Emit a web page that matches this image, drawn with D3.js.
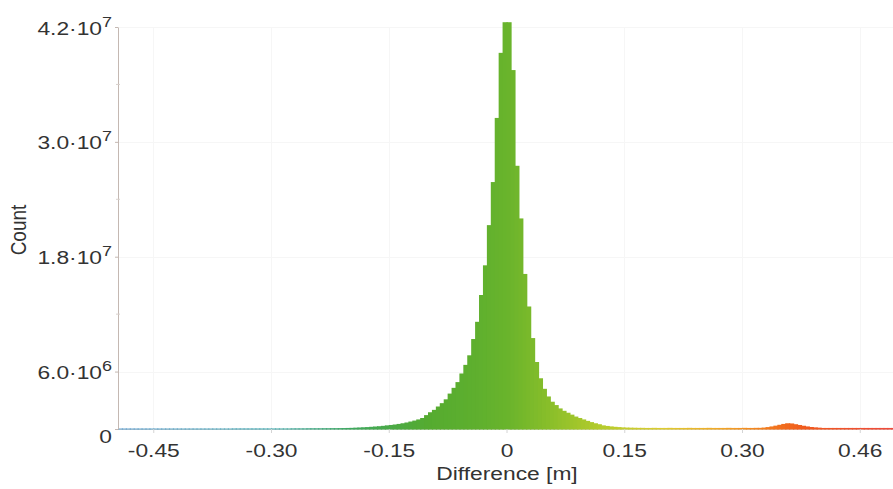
<!DOCTYPE html>
<html>
<head>
<meta charset="utf-8">
<script src="https://cdn.jsdelivr.net/npm/d3@7"></script>
<style>
  html, body { margin: 0; padding: 0; background: #ffffff; }
  svg { display: block; }
  text { font-family: "Liberation Sans", Arial, Helvetica, sans-serif; fill: #333333; }
</style>
</head>
<body>
<svg id="chart" width="893" height="489"></svg>
<script>
// Histogram of elevation differences: bin layout
const binStart = -0.5;      // metres, left edge of first bin
const binWidth = 0.005;     // metres per bin

// Point counts per bin, in millions
const countsMillions = [
  // -0.500 .. -0.355
  0.05, 0.05, 0.05, 0.05, 0.05, 0.05, 0.05, 0.05, 0.05, 0.05,
  0.05, 0.05, 0.05, 0.05, 0.05, 0.05, 0.05, 0.05, 0.05, 0.05,
  0.05, 0.05, 0.05, 0.05, 0.05, 0.05, 0.05, 0.05, 0.05, 0.05,
  // -0.350 .. -0.280
  0.06, 0.06, 0.06, 0.06, 0.06, 0.06, 0.06, 0.06, 0.06, 0.06,
  0.06, 0.06, 0.06, 0.06, 0.06,
  // -0.275 .. -0.230
  0.07, 0.07, 0.07, 0.07, 0.08, 0.08, 0.08, 0.08, 0.085, 0.085,
  // -0.225 .. -0.005
  0.09, 0.09, 0.095, 0.10, 0.11, 0.12, 0.14, 0.16, 0.18, 0.20,
  0.23, 0.26, 0.29, 0.33, 0.38, 0.42, 0.47, 0.53, 0.60, 0.68,
  0.78, 0.88, 1.00, 1.15, 1.45, 1.75, 2.00, 2.35, 2.70, 3.10,
  3.70, 4.30, 4.90, 5.80, 6.70, 7.70, 9.40, 11.2, 14.0, 17.1,
  21.3, 25.8, 32.5, 39.3, 42.5,
  // 0.000 .. 0.170
  42.5, 37.5, 27.5, 22.0, 16.2, 12.8, 9.50, 7.00, 5.30, 4.20,
  3.40, 2.85, 2.50, 2.15, 1.90, 1.70, 1.50, 1.30, 1.15, 1.00,
  0.85, 0.72, 0.60, 0.50, 0.38, 0.32, 0.27, 0.23, 0.20, 0.17,
  0.15, 0.14, 0.13, 0.12, 0.12,
  // 0.175 .. 0.320
  0.11, 0.11, 0.12, 0.11, 0.11, 0.11, 0.12, 0.11, 0.11, 0.11,
  0.11, 0.12, 0.11, 0.11, 0.11, 0.11, 0.12, 0.11, 0.11, 0.11,
  0.11, 0.12, 0.11, 0.11, 0.11, 0.12, 0.11, 0.11, 0.12, 0.12,
  // 0.325 .. 0.395 (secondary mode)
  0.15, 0.20, 0.27, 0.35, 0.44, 0.53, 0.60, 0.58, 0.50, 0.42,
  0.34, 0.27, 0.21, 0.17, 0.14,
  // 0.400 .. 0.495
  0.11, 0.11, 0.11, 0.11, 0.11, 0.11, 0.11, 0.11, 0.11, 0.11,
  0.11, 0.11, 0.11, 0.11, 0.11, 0.11, 0.11, 0.11, 0.11, 0.11
];

// Colour ramp along the difference axis
const colorStops = [-0.5, -0.3, -0.2, -0.1, -0.04, 0, 0.05, 0.12, 0.2, 0.27, 0.33, 0.38, 0.5];
const colorValues = ["#5f9ccc", "#52aeb4", "#3fa860", "#55ab30", "#5eaf2e", "#69b42c", "#86bd2a",
                     "#b5cc2c", "#dccb32", "#f0a82a", "#f27c1e", "#f05a1e", "#ee4a40"];

// Axis ticks
const xTickValues = [-0.45, -0.30, -0.15, 0, 0.15, 0.30, 0.45];
const xTickLabels = ["-0.45", "-0.30", "-0.15", "0", "0.15", "0.30", "0.46"];
const yTickValues = [0, 6e6, 1.8e7, 3.0e7, 4.2e7];
const yTickMantissa = ["0", "6.0\u00B710", "1.8\u00B710", "3.0\u00B710", "4.2\u00B710"];
const yTickExponent = ["", "6", "7", "7", "7"];
const yMinorTicks = [1.2e7, 2.4e7, 3.6e7];

const xTitle = "Difference [m]";
const yTitle = "Count";

const svg = d3.select("#chart");
const W = 893, H = 489;
const plotLeft = 118, plotRight = 893, baseY = 429, topY = 27;
const stretch = 1.2;   // glyphs are drawn slightly wide

const x = d3.scaleLinear().domain([-0.5, 0.5]).range([114, 899]);
const y = d3.scaleLinear().domain([0, 4.2e7]).range([baseY, topY]);
const color = d3.scaleLinear().domain(colorStops).range(colorValues).interpolate(d3.interpolateRgb);

svg.append("rect").attr("width", W).attr("height", H).attr("fill", "#ffffff");

svg.append("defs").append("clipPath").attr("id", "plot-clip")
  .append("rect").attr("x", plotLeft).attr("y", 0).attr("width", plotRight - plotLeft).attr("height", baseY + 1);

// faint grid
const grid = svg.append("g").attr("stroke", "#f6f6f6").attr("stroke-width", 1);
grid.selectAll("line.v").data(xTickValues).join("line")
  .attr("x1", d => Math.round(x(d)) + 0.5).attr("x2", d => Math.round(x(d)) + 0.5)
  .attr("y1", topY).attr("y2", baseY);
grid.selectAll("line.h").data(yTickValues.slice(1)).join("line")
  .attr("x1", plotLeft).attr("x2", plotRight)
  .attr("y1", d => Math.round(y(d)) + 0.5).attr("y2", d => Math.round(y(d)) + 0.5);

// baseline
svg.append("line")
  .attr("x1", plotLeft).attr("x2", plotRight)
  .attr("y1", baseY + 0.5).attr("y2", baseY + 0.5)
  .attr("stroke", "#d6d6d6");

// histogram bars (each bar overlaps its right neighbour slightly so no seams show)
const bins = countsMillions.map((c, i) => ({
  x0: binStart + i * binWidth,
  x1: binStart + (i + 1) * binWidth,
  count: c * 1e6
}));

svg.append("g").attr("clip-path", "url(#plot-clip)")
  .selectAll("rect").data(bins).join("rect")
  .attr("x", d => x(d.x0))
  .attr("width", d => x(d.x1) - x(d.x0) + 1.2)
  .attr("y", d => y(d.count))
  .attr("height", d => baseY - y(d.count) + 0.5)
  .attr("fill", d => color((d.x0 + d.x1) / 2));

// x axis ticks and labels
const xAxis = svg.append("g")
  .attr("transform", `translate(0,${baseY})`)
  .call(d3.axisBottom(x).tickValues(xTickValues).tickSize(4).tickSizeOuter(0)
        .tickFormat((d, i) => xTickLabels[i]));
xAxis.select(".domain").remove();
xAxis.selectAll(".tick line").attr("stroke", "#d4d4d4");
xAxis.selectAll(".tick text")
  .attr("y", 0).attr("dy", null)
  .attr("transform", `translate(0,28) scale(${stretch},1)`)
  .style("font-size", "19px")
  .style("font-family", "'Liberation Sans', Arial, sans-serif")
  .attr("fill", "#333333");

// y axis
const yAxis = svg.append("g")
  .attr("transform", `translate(${plotLeft},0)`)
  .call(d3.axisLeft(y).tickValues(yTickValues).tickSize(3).tickSizeOuter(0).tickFormat(""));
yAxis.select(".domain").attr("stroke", "#c4b8b2");
yAxis.selectAll(".tick line").attr("stroke", "#c4b8b2");
yAxis.selectAll(".minor").data(yMinorTicks).join("line")
  .attr("class", "minor")
  .attr("x1", -2).attr("x2", 2)
  .attr("y1", d => y(d)).attr("y2", d => y(d))
  .attr("stroke", "#d8d0cc");

yAxis.selectAll(".tick").each(function (d, i) {
  const t = d3.select(this).append("text")
    .attr("text-anchor", "end")
    .attr("transform", `translate(-6,${i === 0 ? 13 : 7}) scale(${stretch},1)`)
    .style("font-size", "19px");
  t.append("tspan").text(yTickMantissa[i]);
  if (yTickExponent[i]) {
    t.append("tspan").attr("dy", -8).style("font-size", "15px").text(yTickExponent[i]);
  }
});

// axis titles
svg.append("text")
  .attr("text-anchor", "middle")
  .attr("transform", `translate(507,480) scale(${stretch},1)`)
  .style("font-size", "19px")
  .text(xTitle);

svg.append("text")
  .attr("text-anchor", "middle")
  .attr("transform", `translate(26,230) scale(${stretch},1) rotate(-90)`)
  .style("font-size", "19px")
  .text(yTitle);
</script>
</body>
</html>
